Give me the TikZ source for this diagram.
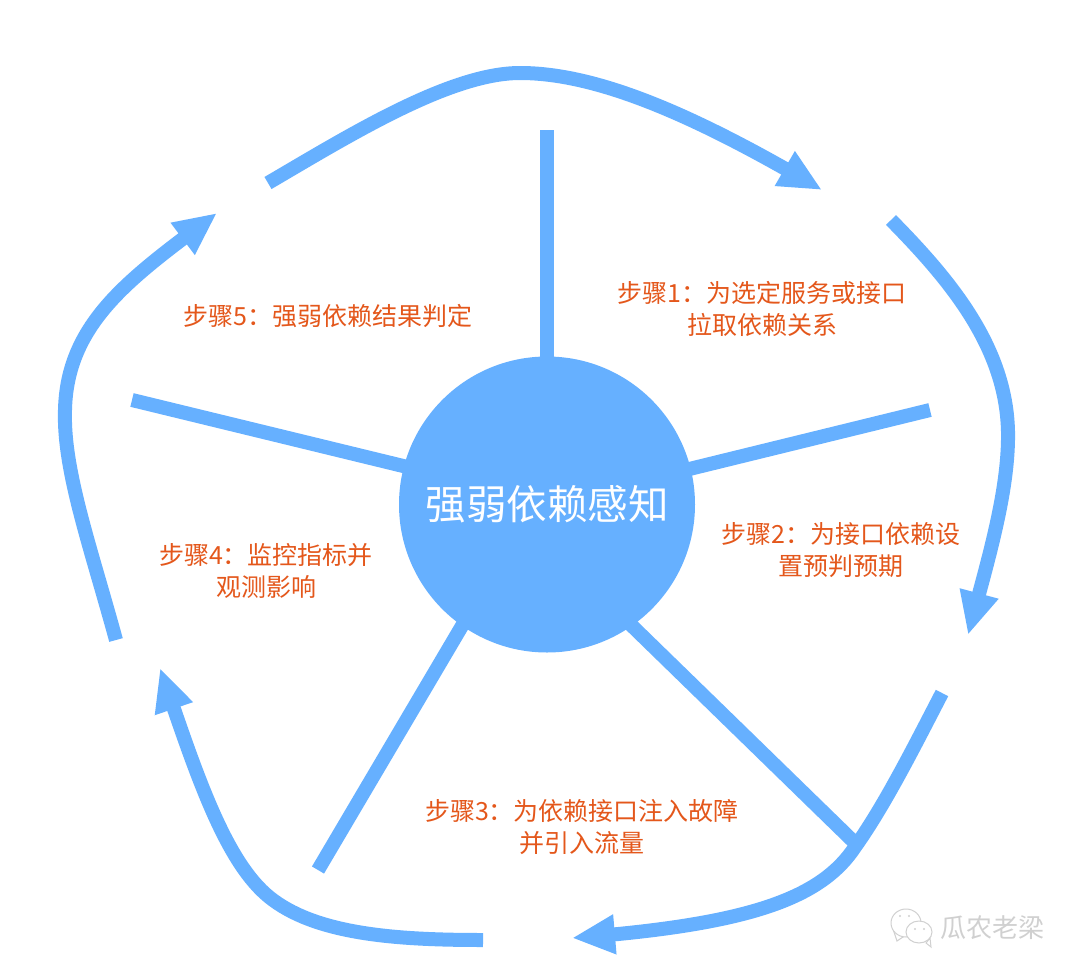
\documentclass[tikz,border=0pt]{standalone}
\usepackage{fontspec}
\setmainfont{Noto Sans CJK SC}
\usetikzlibrary{arrows.meta,bending}
\definecolor{flowblue}{HTML}{66B0FF}
\definecolor{steptext}{HTML}{E4571B}
\definecolor{markgrey}{HTML}{D0D0D0}
\pgfdeclarelayer{bg}
\pgfsetlayers{bg,main}
\tikzset{
  flowarc/.style={draw=flowblue,line width=14pt,-{Triangle[length=43pt,width=37pt,flex]}},
  spoke/.style={draw=flowblue,line width=14pt,shorten <=-5pt},
  hub/.style={circle,fill=flowblue,minimum size=296pt,inner sep=0pt,text=white,font=\fontsize{40.5}{44}\selectfont},
  steplabel/.style={text=steptext,align=center,font=\fontsize{25}{32}\selectfont,inner sep=0pt},
  watermark/.style={text=markgrey,font=\fontsize{26}{30}\selectfont,inner sep=0pt},
  bubble/.style={draw=markgrey,fill=white,line width=1pt},
  eye/.style={fill=markgrey}
}
\begin{document}
\begin{tikzpicture}[x=1pt,y=-1pt]
\useasboundingbox (0,0) rectangle (1080,975);
\node[hub] (center) at (547,504.5) {强弱依赖感知};
\coordinate (s1) at (547,130);
\coordinate (s2) at (930,410);
\coordinate (s3) at (855,843);
\coordinate (s4) at (318,870);
\coordinate (s5) at (132,400);
\begin{pgfonlayer}{bg}
\fill[white] (0,0) rectangle (1080,975);
\draw[spoke] (center.90) -- (s1);
\draw[spoke] (center.14) -- (s2);
\draw[spoke] (center.-55) -- (s3);
\draw[spoke] (center.-125) -- (s4);
\draw[spoke] (center.165) -- (s5);
\end{pgfonlayer}
\coordinate (a1s) at (268,183); \coordinate (a1e) at (822,190);
\coordinate (a2s) at (891,220); \coordinate (a2e) at (968,635);
\coordinate (a3s) at (942,693); \coordinate (a3e) at (572,938);
\coordinate (a4s) at (483,940); \coordinate (a4e) at (160,668);
\coordinate (a5s) at (116,640); \coordinate (a5e) at (217,213);
\draw[flowarc] (a1s) .. controls (350,135) and (450,73) .. (520,73) .. controls (600,73) and (700,118) .. (a1e);
\draw[flowarc] (a2s) .. controls (950,280) and (1010,350) .. (1008,440) .. controls (1007,500) and (985,570) .. (a2e);
\draw[flowarc] (a3s) .. controls (915,745) and (885,805) .. (855,847) .. controls (820,900) and (745,925) .. (a3e);
\draw[flowarc] (a4s) .. controls (400,940) and (320,935) .. (273,900) .. controls (225,865) and (195,770) .. (a4e);
\draw[flowarc] (a5s) .. controls (90,545) and (63,470) .. (65,410) .. controls (67,320) and (135,275) .. (a5e);
\node[steplabel] (l1) at (762,309) {步骤1：为选定服务或接口\\拉取依赖关系};
\node[steplabel] (l2) at (841,550) {步骤2：为接口依赖设\\置预判预期};
\node[steplabel] (l3) at (582,827) {步骤3：为依赖接口注入故障\\并引入流量};
\node[steplabel] (l4) at (266,571) {步骤4：监控指标并\\观测影响};
\node[steplabel] (l5) at (328,316) {步骤5：强弱依赖结果判定};
\draw[bubble] (893,929) -- (897,941) -- (906,935) -- cycle;
\draw[bubble] (906,923) ellipse (15 and 14);
\draw[bubble] (926,943) -- (931,947) -- (930,938) -- cycle;
\draw[bubble] (919,932) ellipse (13 and 11);
\fill[eye] (900,916) circle (1.2); \fill[eye] (909,916) circle (1.2);
\fill[eye] (915,929) circle (1.2); \fill[eye] (924,929) circle (1.2);
\node[watermark] (wm) at (992,928) {瓜农老梁};
\end{tikzpicture}
\end{document}
